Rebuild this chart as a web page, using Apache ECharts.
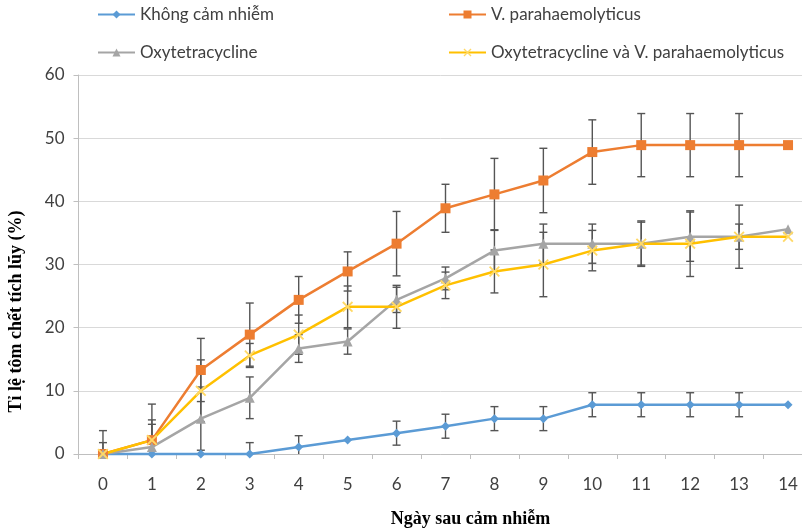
<!DOCTYPE html>
<html>
<head>
<meta charset="utf-8">
<script src="https://cdn.jsdelivr.net/npm/echarts@6/dist/echarts.min.js"></script>
<style>html,body{margin:0;padding:0;background:#fff}#c{width:802px;height:529px}</style>
</head>
<body>
<div id="c"></div>
<script>
const days = ['0','1','2','3','4','5','6','7','8','9','10','11','12','13','14'];
const yTicks = [0,10,20,30,40,50,60];

const seriesNames = ['Không cảm nhiễm','V. parahaemolyticus','Oxytetracycline','Oxytetracycline và V. parahaemolyticus'];

const blue   = [0,0,0,0,1.1,2.2,3.3,4.4,5.6,5.6,7.8,7.8,7.8,7.8,7.8];
const orange = [0,2.2,13.3,18.9,24.4,28.9,33.3,38.9,41.1,43.3,47.8,48.9,48.9,48.9,48.9];
const gray   = [0,1.1,5.6,8.9,16.7,17.8,24.4,27.8,32.2,33.3,33.3,33.3,34.4,34.4,35.6];
const yellow = [0,2.2,10.0,15.6,18.9,23.3,23.3,26.7,28.9,30.0,32.2,33.3,33.3,34.4,34.4];

const blueSD   = [0,0,0,1.8,1.8,0,1.9,1.9,1.9,1.9,1.9,1.9,1.9,1.9,0];
const orangeSD = [3.7,5.7,5.0,5.0,3.7,3.1,5.1,3.8,5.7,5.1,5.1,5.0,5.0,5.0,0];
const graySD   = [0,3.6,5.0,3.3,2.2,2.0,2.0,1.8,3.3,3.1,3.1,3.6,3.9,5.0,0];
const yellowSD = [1.8,3.2,4.9,1.9,3.1,3.3,3.4,2.1,3.4,5.1,3.2,3.4,5.2,2.0,0];

const colors = ['#5B9BD5','#ED7D31','#A5A5A5','#FFC000'];
const xSym = 'path://M0,1.2L1.2,0L5,3.8L8.8,0L10,1.2L6.2,5L10,8.8L8.8,10L5,6.2L1.2,10L0,8.8L3.8,5Z';

function errData(vals, sds){ return vals.map((v,i)=>[i, v, sds[i]]); }

function errSeries(vals, sds){
  return {
    type:'custom', z:1, silent:true, clip:false,
    data: errData(vals, sds),
    renderItem: function(params, api){
      const i = api.value(0), v = api.value(1), sd = api.value(2);
      if(!sd) return null;
      const hi = v + sd, loRaw = v - sd, lo = Math.max(0, loRaw);
      const pH = api.coord([i, hi]), pL = api.coord([i, lo]);
      const w = 4;
      const st = {stroke:'#555', lineWidth:1.4};
      const ch = [
        {type:'line', shape:{x1:pH[0],y1:pH[1],x2:pL[0],y2:pL[1]}, style:st},
        {type:'line', shape:{x1:pH[0]-w,y1:pH[1],x2:pH[0]+w,y2:pH[1]}, style:st}
      ];
      if(loRaw >= 0) ch.push({type:'line', shape:{x1:pL[0]-w,y1:pL[1],x2:pL[0]+w,y2:pL[1]}, style:st});
      return {type:'group', children:ch};
    }
  };
}

const lineBase = {type:'line', z:3, animation:false, clip:false};

const chart = echarts.init(document.getElementById('c'));
const legendText = {fontFamily:'Lato', fontSize:17, color:'#404040'};
function lg(name, left, top){
  return {data:[name], left:left, top:top, padding:0, itemWidth:37, itemHeight:10, textStyle:legendText, selectedMode:false};
}
chart.setOption({
  animation:false,
  color: colors,
  legend: [
    lg(seriesNames[0], 97, 6),
    lg(seriesNames[1], 448, 6),
    lg(seriesNames[2], 97, 44),
    lg(seriesNames[3], 448, 44)
  ],
  grid:{left:78.5, width:734, top:75, height:379, outerBoundsMode:'none', containLabel:false},
  xAxis:{
    type:'category', data: days, boundaryGap:true,
    axisLine:{lineStyle:{color:'#BFBFBF', width:1}},
    axisTick:{show:true, length:5, lineStyle:{color:'#BFBFBF'}},
    axisLabel:{fontFamily:'Lato', fontSize:17, color:'#404040', margin:22},
    name:'Ngày sau cảm nhiễm', nameLocation:'middle', nameGap:56,
    nameTextStyle:{fontFamily:'Liberation Serif', fontWeight:'bold', fontSize:18, color:'#000', padding:[0,0,0,50]}
  },
  yAxis:{
    type:'value', min:0, max:60, interval:10,
    axisLine:{show:true, lineStyle:{color:'#BFBFBF', width:1}},
    axisTick:{show:true, length:5, lineStyle:{color:'#BFBFBF'}},
    splitLine:{lineStyle:{color:'#D9D9D9', width:1}},
    axisLabel:{fontFamily:'Lato', fontSize:17, color:'#404040', margin:14,
      formatter: v => yTicks.includes(v) ? String(v) : ''},
    name:'Tỉ lệ tôm chết tích lũy (%)', nameLocation:'middle', nameGap:53,
    nameTextStyle:{fontFamily:'Liberation Serif', fontWeight:'bold', fontSize:18, color:'#000', padding:[0,94,0,0]}
  },
  series:[
    errSeries(blue, blueSD),
    errSeries(orange, orangeSD),
    errSeries(gray, graySD),
    errSeries(yellow, yellowSD),
    Object.assign({}, lineBase, {name:seriesNames[0], data:blue, symbol:'diamond', symbolSize:9, itemStyle:{color:colors[0]}, lineStyle:{width:2.5, color:colors[0]}}),
    Object.assign({}, lineBase, {name:seriesNames[1], data:orange, symbol:'rect', symbolSize:10, itemStyle:{color:colors[1]}, lineStyle:{width:2.5, color:colors[1]}}),
    Object.assign({}, lineBase, {name:seriesNames[2], data:gray, symbol:'triangle', symbolSize:10, itemStyle:{color:colors[2]}, lineStyle:{width:2.5, color:colors[2]}}),
    Object.assign({}, lineBase, {name:seriesNames[3], data:yellow, symbol:xSym, symbolSize:11, itemStyle:{color:'#FFD966'}, lineStyle:{width:2.5, color:colors[3]}})
  ]
});
</script>
</body>
</html>
